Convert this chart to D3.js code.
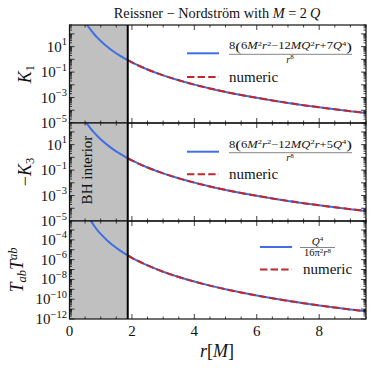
<!DOCTYPE html>
<html>
<head>
<meta charset="utf-8">
<script src="https://cdn.jsdelivr.net/npm/d3@7"></script>
<style>
body { margin: 0; background: #fff; }
</style>
</head>
<body>
<svg id="chart" width="374" height="368" font-family="'Liberation Serif', 'Times New Roman', serif"></svg>
<script>
// values (M = 1, Q = 0.5)
var rValues = [0.5, 0.6, 0.7, 0.8, 0.9, 1.0, 1.2, 1.4, 1.6, 1.866, 2.0, 2.5, 3, 3.5, 4, 4.5, 5, 5.5, 6, 6.5, 7, 7.5, 8, 8.5, 9, 9.5];
var k1Values = [896, 379.9, 177.3, 89.53, 48.27, 27.5, 10.19, 4.335, 2.048, 0.8562, 0.5762, 0.1596, 0.0554, 0.02254, 0.010307, 0.005159, 0.002774, 0.0015806, 0.0009451, 0.0005886, 0.0003795, 0.0002521, 0.0001719, 0.0001199, 0.00008538, 0.00006191];
var k3Values = [640, 320.3, 159.9, 83.57, 45.95, 26.5, 9.959, 4.268, 2.025, 0.8494, 0.5723, 0.1589, 0.05525, 0.02249, 0.010292, 0.005153, 0.002771, 0.0015794, 0.0009446, 0.0005883, 0.0003793, 0.000252, 0.0001718, 0.0001199, 0.00008536, 0.0000619];
var tValues = [0.10133, 0.023565, 0.006866, 0.002359, 0.0009195, 0.0003958, 9.205e-5, 2.682e-5, 9.215e-6, 2.693e-6, 1.546e-6, 2.594e-7, 6.033e-8, 1.758e-8, 6.039e-9, 2.354e-9, 1.0133e-9, 4.727e-10, 2.3565e-10, 1.2421e-10, 6.866e-11, 3.954e-11, 2.359e-11, 1.4525e-11, 9.195e-12, 5.966e-12];
var horizon = 1.866;
var xTickValues = [0, 2, 4, 6, 8];
var k1Exps = [1, -1, -3, -5];
var k3Exps = [1, -1, -3, -5];
var tExps = [-4, -6, -8, -10, -12];

var blue = "#3f6fe3", red = "#c0272d";
var svg = d3.select("#chart");
var left = 69.5, right = 366;

var x = d3.scaleLinear().domain([0, 9.5]).range([left, right]);

var panels = [
    {id: "p1", top: 25, bottom: 123, dom: [1e-5, 500], vals: k1Values, exps: k1Exps},
    {id: "p2", top: 123, bottom: 221, dom: [1e-5, 500], vals: k3Values, exps: k3Exps},
    {id: "p3", top: 221, bottom: 319, dom: [1e-12, 8e-3], vals: tValues, exps: tExps}
];

function powLabel(g, px, py, exp) {
    var t = g.append("text").attr("x", px).attr("y", py).attr("text-anchor", "end").attr("fill", "#111").style("font-size", "15px");
    t.append("tspan").text("10");
    t.append("tspan").attr("dy", -6.5).style("font-size", "10.5px").text(exp < 0 ? "\u2212" + (-exp) : exp);
}

var defs = svg.append("defs");

panels.forEach(function(p) {
    var y = d3.scaleLog().domain(p.dom).range([p.bottom, p.top]);
    p.y = y;
    defs.append("clipPath").attr("id", "clip-" + p.id)
        .append("rect").attr("x", left).attr("y", p.top).attr("width", right - left).attr("height", p.bottom - p.top);

    var g = svg.append("g");
    // BH interior shading
    g.append("rect").attr("x", x(0)).attr("y", p.top).attr("width", x(horizon) - x(0)).attr("height", p.bottom - p.top)
        .attr("fill", "#c0c0c0");

    var pts = rValues.map(function(r, i) { return [r, p.vals[i]]; });
    var line = d3.line().x(function(d) { return x(d[0]); }).y(function(d) { return y(d[1]); }).curve(d3.curveMonotoneX);
    var plot = g.append("g").attr("clip-path", "url(#clip-" + p.id + ")");
    plot.append("path").attr("d", line(pts)).attr("fill", "none").attr("stroke", blue).attr("stroke-width", 2);
    plot.append("path").attr("d", line(pts.filter(function(d) { return d[0] >= horizon; })))
        .attr("fill", "none").attr("stroke", red).attr("stroke-width", 2).attr("stroke-dasharray", "7.4,3.2");
    plot.append("line").attr("x1", x(horizon)).attr("x2", x(horizon)).attr("y1", p.top).attr("y2", p.bottom)
        .attr("stroke", "#000").attr("stroke-width", 2);

    // ticks
    var lo = Math.round(Math.log10(p.dom[0])), hi = Math.ceil(Math.log10(p.dom[1]));
    var major = [], minor = [];
    for (var e = lo; e <= hi; e++) {
        if (Math.pow(10, e) <= p.dom[1]) major.push(Math.pow(10, e));
        for (var k = 2; k < 10; k++) {
            var v = k * Math.pow(10, e);
            if (v <= p.dom[1]) minor.push(v);
        }
    }
    var ticks = g.append("g").attr("stroke", "#111").attr("stroke-width", 0.8);
    [[left, 1], [right, -1]].forEach(function(s) {
        ticks.selectAll(null).data(major).enter().append("line")
            .attr("x1", s[0]).attr("x2", s[0] + s[1] * 5).attr("y1", y).attr("y2", y);
        ticks.selectAll(null).data(minor).enter().append("line")
            .attr("x1", s[0]).attr("x2", s[0] + s[1] * 2.5).attr("y1", y).attr("y2", y);
    });
    var xMinor = d3.range(0, 9.51, 0.5).filter(function(v) { return v % 2 !== 0; });
    [[p.bottom, -1], [p.top, 1]].forEach(function(s) {
        ticks.selectAll(null).data(xTickValues).enter().append("line")
            .attr("x1", x).attr("x2", x).attr("y1", s[0]).attr("y2", s[0] + s[1] * 5);
        ticks.selectAll(null).data(xMinor).enter().append("line")
            .attr("x1", x).attr("x2", x).attr("y1", s[0]).attr("y2", s[0] + s[1] * 2.5);
    });

    p.exps.forEach(function(e) { powLabel(svg, 67, y(Math.pow(10, e)) + 5, e); });

    g.append("rect").attr("x", left).attr("y", p.top).attr("width", right - left).attr("height", p.bottom - p.top)
        .attr("fill", "none").attr("stroke", "#111").attr("stroke-width", 1.2);
});

// x axis labels
svg.selectAll(null).data(xTickValues).enter().append("text")
    .attr("x", x).attr("y", 335.5).attr("text-anchor", "middle").attr("fill", "#111").style("font-size", "15px")
    .text(function(d) { return d; });

var xl = svg.append("text").attr("x", 217).attr("y", 357).attr("text-anchor", "middle").attr("fill", "#111").style("font-size", "18px");
xl.append("tspan").style("font-style", "italic").text("r");
xl.append("tspan").text("[");
xl.append("tspan").style("font-style", "italic").text("M");
xl.append("tspan").text("]");

// title
var tt = svg.append("text").attr("x", 217).attr("y", 17.5).attr("text-anchor", "middle").attr("fill", "#111").style("font-size", "14.3px");
tt.append("tspan").text("Reissner \u2212 Nordstr\u00f6m with ");
tt.append("tspan").style("font-style", "italic").text("M");
tt.append("tspan").text(" = 2");
tt.append("tspan").style("font-style", "italic").text("\u2009Q");

// y labels
function ylab(cx, cy) {
    return svg.append("text").attr("transform", "translate(" + cx + "," + cy + ") rotate(-90)")
        .attr("text-anchor", "middle").attr("fill", "#111").style("font-size", "18px");
}
var y1 = ylab(31, 74);
y1.append("tspan").style("font-style", "italic").text("K");
y1.append("tspan").attr("dy", 3).style("font-size", "12.5px").text("1");
var y2 = ylab(31, 172);
y2.append("tspan").text("\u2212");
y2.append("tspan").style("font-style", "italic").text("K");
y2.append("tspan").attr("dy", 3).style("font-size", "12.5px").text("3");
var y3 = ylab(23, 270);
y3.append("tspan").style("font-style", "italic").text("T");
y3.append("tspan").attr("dy", 3).style("font-size", "12.5px").style("font-style", "italic").text("ab");
y3.append("tspan").attr("dy", -3).style("font-style", "italic").text("T");
y3.append("tspan").attr("dy", -6.5).style("font-size", "12.5px").style("font-style", "italic").text("ab");

svg.append("text").attr("transform", "translate(91.5,170) rotate(-90)").attr("text-anchor", "middle")
    .attr("fill", "#111").style("font-size", "15px").text("BH interior");

// legends
function fracNum(px, py, c) {
    var t = svg.append("text").attr("x", px).attr("y", py).attr("fill", "#111").style("font-size", "9.6px");
    t.append("tspan").text("8");
    t.append("tspan").style("font-size", "13px").attr("dy", 1.5).text("(");
    t.append("tspan").attr("dy", -1.5).text("6");
    t.append("tspan").style("font-style", "italic").text("M");
    t.append("tspan").attr("dy", -3.5).style("font-size", "6.5px").text("2");
    t.append("tspan").attr("dy", 3.5).style("font-style", "italic").text("r");
    t.append("tspan").attr("dy", -3.5).style("font-size", "6.5px").text("2");
    t.append("tspan").attr("dy", 3.5).text("\u221212");
    t.append("tspan").style("font-style", "italic").text("MQ");
    t.append("tspan").attr("dy", -3.5).style("font-size", "6.5px").text("2");
    t.append("tspan").attr("dy", 3.5).style("font-style", "italic").text("r");
    t.append("tspan").text("+" + c);
    t.append("tspan").style("font-style", "italic").text("Q");
    t.append("tspan").attr("dy", -3.5).style("font-size", "6.5px").text("4");
    t.append("tspan").style("font-size", "13px").attr("dy", 5).text(")");
    return t;
}
function small(px, py, fs) {
    return svg.append("text").attr("x", px).attr("y", py).attr("text-anchor", "middle").attr("fill", "#111").style("font-size", fs || "10.5px");
}
function legend(ly, ny, kind) {
    var lx0 = kind === "t" ? 260 : 187, lx1 = lx0 + 32;
    svg.append("line").attr("x1", lx0).attr("x2", lx1).attr("y1", ly).attr("y2", ly).attr("stroke", blue).attr("stroke-width", 2);
    svg.append("line").attr("x1", lx0).attr("x2", lx1).attr("y1", ny).attr("y2", ny).attr("stroke", red).attr("stroke-width", 2)
        .attr("stroke-dasharray", "7.4,3.2");
    svg.append("text").attr("x", lx1 + 10 + (kind === "t" ? 1 : 0)).attr("y", ny + 4.5).attr("fill", "#111").style("font-size", "15px").text("numeric");
    if (kind === "t") {
        var n = small(317.5, ly - 2, "11px");
        n.append("tspan").style("font-style", "italic").text("Q");
        n.append("tspan").attr("dy", -4).style("font-size", "7px").text("4");
        svg.append("line").attr("x1", 300).attr("x2", 335).attr("y1", ly + 0.5).attr("y2", ly + 0.5).attr("stroke", "#333").attr("stroke-width", 0.6);
        var d = small(317.5, ly + 9);
        d.append("tspan").text("16\u03c0");
        d.append("tspan").attr("dy", -3.5).style("font-size", "7px").text("2");
        d.append("tspan").attr("dy", 3.5).style("font-style", "italic").text("r");
        d.append("tspan").attr("dy", -3.5).style("font-size", "7px").text("8");
    } else {
        var num = fracNum(229, ly - 4, kind === "k1" ? "7" : "5");
        num.attr("textLength", 123).attr("lengthAdjust", "spacingAndGlyphs");
        svg.append("line").attr("x1", 229).attr("x2", 352).attr("y1", ly + 1).attr("y2", ly + 1).attr("stroke", "#333").attr("stroke-width", 0.6);
        var dd = small(290, ly + 9.5, "10px");
        dd.append("tspan").style("font-style", "italic").text("r");
        dd.append("tspan").attr("dy", -3.5).style("font-size", "7px").text("8");
    }
}
legend(53.3, 77, "k1");
legend(151.7, 174.3, "k3");
legend(247, 269.5, "t");
</script>
</body>
</html>
